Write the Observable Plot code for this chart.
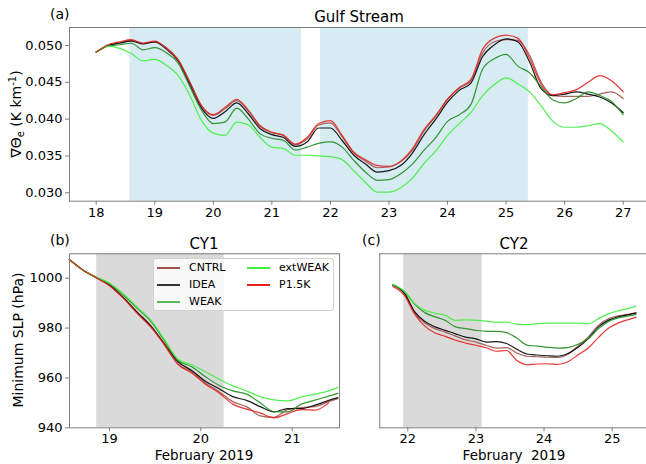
<!DOCTYPE html>
<html><head><meta charset="utf-8">
<script src="https://cdn.jsdelivr.net/npm/d3@7"></script>
<script src="https://cdn.jsdelivr.net/npm/@observablehq/plot@0.6"></script>
<style>
body{margin:0;background:#fff;}
#fig{position:relative;width:646px;height:464px;overflow:hidden;font-family:"DejaVu Sans",sans-serif;color:#000;background:#fff;}
#fig svg{position:absolute;left:0;top:0;}
#legend{position:absolute;left:153px;top:258px;width:179px;height:51px;border:1px solid #d0d0d0;border-radius:3px;background:rgba(255,255,255,0.8);font-size:11px;}
#legend .it{position:absolute;white-space:nowrap;line-height:14px;}
#legend .ln{display:inline-block;width:23px;vertical-align:middle;margin-right:9px;}
</style></head><body><div id="fig"></div>
<script>
// ---------- data ----------
const seriesNames = ["CNTRL", "IDEA", "WEAK", "extWEAK", "P1.5K"];
const seriesColors = ["#a0524d", "#000000", "#1e8c1e", "#3ef03e", "#e8211f"];

// (a) Gulf Stream, day of February 2019
const gsDays = [18.0,18.2,18.4,18.6,18.8,19.0,19.2,19.4,19.6,19.8,
  20.0,20.2,20.4,20.6,20.8,21.0,21.2,21.4,21.6,21.8,
  22.0,22.2,22.4,22.6,22.8,23.0,23.2,23.4,23.6,23.8,
  24.0,24.2,24.4,24.6,24.8,25.0,25.2,25.4,25.6,25.8,
  26.0,26.2,26.4,26.6,26.8,27.0];
const gsCNTRL = [0.0491,0.0500,0.0504,0.0507,0.0503,0.0505,0.0497,0.0481,0.0450,0.0418,
  0.0405,0.0414,0.0425,0.0411,0.0390,0.0382,0.0378,0.0365,0.0373,0.0392,
  0.0395,0.0376,0.0354,0.0343,0.0334,0.0335,0.0342,0.0358,0.0384,0.0404,
  0.0427,0.0442,0.0452,0.0490,0.0505,0.0508,0.0507,0.0487,0.0450,0.0432,
  0.0431,0.0431,0.0431,0.0434,0.0437,0.0428];
const gsIDEA = [0.0491,0.0500,0.0503,0.0506,0.0502,0.0505,0.0495,0.0479,0.0447,0.0415,
  0.0401,0.0410,0.0422,0.0407,0.0387,0.0379,0.0375,0.0363,0.0369,0.0388,
  0.0388,0.0371,0.0351,0.0339,0.0328,0.0330,0.0337,0.0354,0.0379,0.0400,
  0.0423,0.0439,0.0449,0.0485,0.0501,0.0509,0.0505,0.0478,0.0441,0.0432,
  0.0434,0.0437,0.0434,0.0430,0.0422,0.0409];
const gsWEAK = [0.0491,0.0499,0.0501,0.0503,0.0494,0.0497,0.0490,0.0476,0.0444,0.0412,
  0.0394,0.0396,0.0415,0.0400,0.0380,0.0374,0.0371,0.0358,0.0362,0.0367,
  0.0369,0.0362,0.0344,0.0328,0.0317,0.0318,0.0326,0.0339,0.0358,0.0375,
  0.0397,0.0406,0.0420,0.0468,0.0482,0.0488,0.0472,0.0463,0.0444,0.0426,
  0.0422,0.0428,0.0437,0.0432,0.0424,0.0406];
const gsExtWEAK = [0.0491,0.0499,0.0496,0.0489,0.0479,0.0481,0.0473,0.0459,0.0432,0.0398,
  0.0381,0.0378,0.0396,0.0392,0.0375,0.0362,0.0360,0.0351,0.0351,0.0350,
  0.0349,0.0345,0.0330,0.0314,0.0301,0.0301,0.0307,0.0320,0.0340,0.0357,
  0.0378,0.0394,0.0409,0.0432,0.0447,0.0456,0.0448,0.0437,0.0418,0.0397,
  0.0389,0.0389,0.0391,0.0394,0.0384,0.0369];
const gsP15K = [0.0491,0.0501,0.0505,0.0508,0.0503,0.0506,0.0496,0.0480,0.0450,0.0418,
  0.0406,0.0416,0.0427,0.0412,0.0391,0.0382,0.0378,0.0366,0.0375,0.0394,
  0.0398,0.0378,0.0355,0.0345,0.0337,0.0336,0.0343,0.0360,0.0386,0.0405,
  0.0427,0.0443,0.0454,0.0495,0.0510,0.0514,0.0510,0.0483,0.0447,0.0433,
  0.0436,0.0440,0.0450,0.0459,0.0452,0.0437];
const gsShadeStart = [18.574, 21.83];
const gsShadeEnd = [21.506, 25.38];
const gsTicks = [0.030, 0.035, 0.040, 0.045, 0.050];

// (b) CY1 minimum SLP (hPa)
const cy1Days = [18.56,18.7,18.85,19.0,19.15,19.3,19.45,19.6,19.75,19.9,20.05,20.2,20.35,20.5,20.65,20.8,20.95,21.1,21.25,21.4,21.5];
const cy1CNTRL = [1007.5,1003.5,1000.3,997.2,992.2,986.3,980.8,973.3,965.5,962.5,958.0,954.5,950.5,948.5,944.8,944.2,947.3,948.1,948.5,950.5,951.7];
const cy1IDEA = [1007.5,1003.5,1000.3,997.3,992.3,986.5,981.0,973.8,966.5,963.0,958.7,955.7,952.5,951.0,948.5,946.4,947.7,947.7,949.1,951.0,952.1];
const cy1WEAK = [1007.5,1003.5,1000.5,997.8,993.3,988.0,982.8,975.0,967.0,964.5,960.5,957.0,954.8,953.5,950.0,946.5,946.4,949.5,951.1,952.7,953.8];
const cy1ExtWEAK = [1007.5,1003.5,1000.5,998.0,993.8,988.5,983.3,975.5,967.5,965.3,962.5,959.5,956.8,954.8,952.5,951.2,950.8,952.4,953.5,954.8,956.2];
const cy1P15K = [1007.5,1003.5,1000.3,997.0,992.0,986.0,980.5,973.5,965.5,962.0,957.5,954.0,949.5,947.5,946.0,944.0,945.7,947.3,947.1,950.0,null];
const cy1ShadeStart = [18.86];
const cy1ShadeEnd = [20.255];

// (c) CY2 minimum SLP (hPa)
const cy2Days = [21.78,21.95,22.1,22.25,22.4,22.55,22.7,22.85,23.0,23.15,23.3,23.45,23.6,23.75,23.9,24.05,24.2,24.35,24.5,24.65,24.8,24.95,25.1,25.25,25.35];
const cy2CNTRL = [997.3,993.8,986.2,982.0,979.8,978.4,976.8,975.3,974.4,973.1,972.0,972.2,970.0,968.7,968.5,968.3,968.2,969.5,972.8,976.5,981.2,983.8,985.0,985.6,986.2];
const cy2IDEA = [997.3,994.0,986.6,982.6,980.5,979.1,977.7,976.4,975.7,974.4,974.6,973.8,971.5,969.6,969.2,968.9,968.7,969.8,972.3,975.8,980.5,983.2,984.6,985.4,986.0];
const cy2WEAK = [997.5,994.6,989.6,986.2,984.5,983.1,980.5,979.8,979.1,978.7,978.7,978.2,976.0,973.2,972.8,972.3,972.0,972.2,973.5,975.8,979.8,982.7,984.2,984.9,985.5];
const cy2ExtWEAK = [997.5,994.8,989.8,987.2,986.0,985.1,983.1,983.3,983.1,982.8,982.4,982.4,981.5,981.4,981.8,982.0,982.0,982.0,982.0,981.8,983.8,985.8,987.0,988.0,988.8];
const cy2P15K = [996.7,993.1,985.6,980.8,978.0,976.7,975.1,974.0,973.1,972.1,970.7,971.0,967.0,965.3,965.6,965.7,965.4,966.5,969.3,972.0,976.3,980.0,982.2,983.5,984.4];
const cy2ShadeStart = [21.94];
const cy2ShadeEnd = [23.09];
const slpTicks = [940, 960, 980, 1000];

// ---------- helpers ----------
function longData(days, arrays) {
  const out = [];
  arrays.forEach((arr, i) => arr.forEach((v, j) => {
    if (v != null) out.push({t: days[j], v: v, s: seriesNames[i]});
  }));
  return out;
}
function shades(a, b) { return a.map((s, i) => ({x1: s, x2: b[i]})); }

const fig = document.getElementById("fig");
const W = 646, H = 464;
const spine = "#7f7f7f";
const baseStyle = {fontFamily: "DejaVu Sans", fontSize: "13px", background: "transparent", overflow: "visible"};
const colorOpt = {domain: seriesNames, range: seriesColors};

// ---------- (a) ----------
const gsData = longData(gsDays, [gsCNTRL, gsIDEA, gsWEAK, gsExtWEAK, gsP15K]);
const plotA = Plot.plot({
  width: W, height: H,
  marginLeft: 69, marginRight: 0, marginTop: 27, marginBottom: H - 200.7,
  style: baseStyle,
  color: colorOpt,
  x: {domain: [17.544, 27.398]},
  y: {domain: [0.02886, 0.05244]},
  marks: [
    Plot.rect(shades(gsShadeStart, gsShadeEnd), {x1: "x1", x2: "x2", fill: "#add8e6", fillOpacity: 0.5}),
    Plot.line(gsData, {x: "t", y: "v", z: "s", stroke: "s", strokeWidth: 1.2, strokeOpacity: 0.9, curve: "monotone-x"}),
    Plot.frame({anchor: "left", stroke: spine}),
    Plot.frame({anchor: "top", stroke: spine}),
    Plot.frame({anchor: "bottom", stroke: spine}),
    Plot.axisX({ticks: [18,19,20,21,22,23,24,25,26,27], tickFormat: d3.format("d"), tickSize: 4, tickPadding: 3, stroke: spine, label: null}),
    Plot.axisY({ticks: gsTicks, tickFormat: d3.format(".3f"), tickSize: 4, tickPadding: 3, stroke: spine, label: null})
  ]
});

// ---------- (b) ----------
const cy1Data = longData(cy1Days, [cy1CNTRL, cy1IDEA, cy1WEAK, cy1ExtWEAK, cy1P15K]);
const plotB = Plot.plot({
  width: 345, height: H,
  marginLeft: 69, marginRight: 6, marginTop: 253.3, marginBottom: H - 427.3,
  style: baseStyle,
  color: colorOpt,
  x: {domain: [18.562, 21.518]},
  y: {domain: [940, 1009.8]},
  marks: [
    Plot.rect(shades(cy1ShadeStart, cy1ShadeEnd), {x1: "x1", x2: "x2", fill: "#dadada"}),
    Plot.line(cy1Data, {x: "t", y: "v", z: "s", stroke: "s", strokeWidth: 1.2, strokeOpacity: 0.9, curve: "monotone-x"}),
    Plot.frame({stroke: spine}),
    Plot.axisX({ticks: [19,20,21], tickFormat: d3.format("d"), tickSize: 4, tickPadding: 2, stroke: spine, label: null}),
    Plot.axisY({ticks: slpTicks, tickFormat: d3.format("d"), tickSize: 4, tickPadding: 3, stroke: spine, label: null})
  ]
});

// ---------- (c) ----------
const cy2Data = longData(cy2Days, [cy2CNTRL, cy2IDEA, cy2WEAK, cy2ExtWEAK, cy2P15K]);
const plotC = Plot.plot({
  width: W, height: H,
  marginLeft: 379.3, marginRight: 0, marginTop: 253.3, marginBottom: H - 427.3,
  style: baseStyle,
  color: colorOpt,
  x: {domain: [21.589, 25.504]},
  y: {domain: [940, 1009.8], axis: null},
  marks: [
    Plot.rect(shades(cy2ShadeStart, cy2ShadeEnd), {x1: "x1", x2: "x2", fill: "#dadada"}),
    Plot.line(cy2Data, {x: "t", y: "v", z: "s", stroke: "s", strokeWidth: 1.2, strokeOpacity: 0.9, curve: "monotone-x"}),
    Plot.frame({anchor: "left", stroke: spine}),
    Plot.frame({anchor: "top", stroke: spine}),
    Plot.frame({anchor: "bottom", stroke: spine}),
    Plot.axisX({ticks: [22,23,24,25], tickFormat: d3.format("d"), tickSize: 4, tickPadding: 2, stroke: spine, label: null})
  ]
});

fig.append(plotA, plotB, plotC);

// ---------- annotations ----------
const ann = d3.select(fig).append("svg").attr("width", W).attr("height", H)
  .style("font-family", "DejaVu Sans").style("pointer-events", "none");
function txt(x, y, s, size, anchor) {
  return ann.append("text").attr("x", x).attr("y", y).attr("font-size", size)
    .attr("text-anchor", anchor || "start").attr("fill", "#000").attr("xml:space", "preserve").text(s);
}
txt(50, 19, "(a)", 14);
txt(359, 22, "Gulf Stream", 15, "middle");
txt(50, 245, "(b)", 14);
txt(204, 249, "CY1", 15, "middle");
txt(362, 245, "(c)", 14);
txt(514, 249, "CY2", 15, "middle");
txt(204, 460, "February 2019", 13.5, "middle");
txt(514, 460, "February  2019", 13.5, "middle");

const yl1 = ann.append("text").attr("transform", "translate(21,114) rotate(-90)")
  .attr("text-anchor", "middle").attr("font-size", 14).attr("fill", "#000");
yl1.append("tspan").text("\u2207\u0398");
yl1.append("tspan").attr("font-size", 10).attr("dy", 3).text("e");
yl1.append("tspan").attr("dy", -3).text(" (K km");
yl1.append("tspan").attr("font-size", 10).attr("dy", -5).text("-1");
yl1.append("tspan").attr("dy", 5).text(")");

ann.append("text").attr("transform", "translate(23,340) rotate(-90)")
  .attr("text-anchor", "middle").attr("font-size", 14).attr("fill", "#000").text("Minimum SLP (hPa)");

// ---------- legend ----------
const leg = document.createElement("div");
leg.id = "legend";
const legPos = [[3, 2], [3, 19], [3, 36], [93, 2], [93, 19]];
const legWidth = [1.5, 1.5, 2.5, 1.5, 1.5];
const legColor = ["#a0524d", "#333333", "#5cb85c", "#3ef03e", "#e8211f"];
seriesNames.forEach((n, i) => {
  const it = document.createElement("div");
  it.className = "it";
  it.style.left = legPos[i][0] + "px";
  it.style.top = legPos[i][1] + "px";
  it.innerHTML = `<span class="ln" style="height:${legWidth[i]}px;background:${legColor[i]}"></span>${n}`;
  leg.appendChild(it);
});
fig.appendChild(leg);
</script></body></html>
